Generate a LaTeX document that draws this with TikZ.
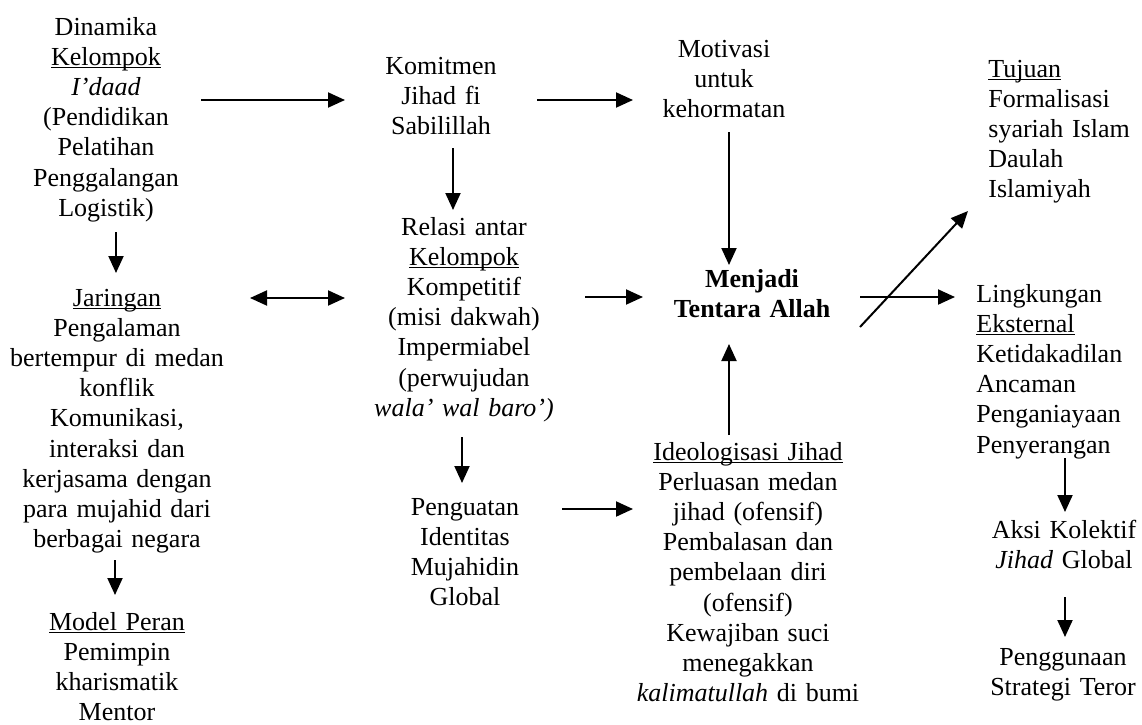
\documentclass[tikz,border=0pt]{standalone}
\usepackage{fontspec}
\setmainfont{Liberation Serif}
\usetikzlibrary{arrows.meta}
\newcommand{\myul}[1]{\leavevmode\setbox0\hbox{#1}\rlap{\rule[-1.6pt]{\wd0}{0.55pt}}\box0}
\tikzset{
  txt/.style={text width=130pt, align=center, anchor=base, inner sep=0pt, font=\fontsize{13pt}{15.1pt}\selectfont},
  ltxt/.style={text width=80pt, align=left, anchor=base west, inner sep=0pt, font=\fontsize{13pt}{15.1pt}\selectfont},
  arr/.style={-{Triangle[length=8.5pt,width=7.5pt]}, line width=1pt},
  darr/.style={{Triangle[length=8.5pt,width=7.5pt]}-{Triangle[length=8.5pt,width=7.5pt]}, line width=1pt}
}
\begin{document}
\begin{tikzpicture}[x=0.5pt,y=-0.5pt]
\fill[white] (0,0) rectangle (1142,724);
\useasboundingbox (0,0) rectangle (1142,724);

\node[txt] (dinamika) at (106,35) {Dinamika\\\myul{Kelompok}\\\textit{I’daad}\\(Pendidikan\\Pelatihan\\Penggalangan\\Logistik)};
\node[txt] (jaringan) at (117,306) {\myul{Jaringan}\\Pengalaman\\bertempur di medan\\konflik\\Komunikasi,\\interaksi dan\\kerjasama dengan\\para mujahid dari\\berbagai negara};
\node[txt] (model) at (117,630) {\myul{Model Peran}\\Pemimpin\\kharismatik\\Mentor};
\node[txt] (komitmen) at (441,74) {Komitmen\\Jihad fi\\Sabilillah};
\node[txt] (motivasi) at (724,57) {Motivasi\\untuk\\kehormatan};
\node[txt] (relasi) at (464,235) {Relasi antar\\\myul{Kelompok}\\Kompetitif\\(misi dakwah)\\Impermiabel\\(perwujudan\\\textit{wala’ wal baro’)}};
\node[txt] (menjadi) at (752,287) {\textbf{Menjadi}\\\textbf{Tentara Allah}};
\node[txt] (penguatan) at (465,515) {Penguatan\\Identitas\\Mujahidin\\Global};
\node[txt] (ideologisasi) at (748,460) {\myul{Ideologisasi Jihad}\\Perluasan medan\\jihad (ofensif)\\Pembalasan dan\\pembelaan diri\\(ofensif)\\Kewajiban suci\\menegakkan\\\textit{kalimatullah} di bumi};
\node[ltxt] (tujuan) at (988,77) {\myul{Tujuan}\\Formalisasi\\syariah Islam\\Daulah\\Islamiyah};
\node[ltxt] (lingkungan) at (976,302) {Lingkungan\\\myul{Eksternal}\\Ketidakadilan\\Ancaman\\Penganiayaan\\Penyerangan};
\node[txt] (aksi) at (1064,538) {Aksi Kolektif\\\textit{Jihad} Global};
\node[txt] (penggunaan) at (1063,665) {Penggunaan\\Strategi Teror};

\draw[arr] ([shift={(10,197)}]dinamika.base) -- ([shift={(-1,-33)}]jaringan.base);
\draw[arr] ([shift={(-2,254)}]jaringan.base) -- ([shift={(-2,-35)}]model.base);
\draw[arr] ([shift={(95,65)}]dinamika.base) -- ([shift={(-96,26)}]komitmen.base);
\draw[darr] ([shift={(133,-8)}]jaringan.base) -- ([shift={(-119,63)}]relasi.base);
\draw[arr] ([shift={(96,26)}]komitmen.base) -- ([shift={(-91,43)}]motivasi.base);
\draw[arr] ([shift={(12,74)}]komitmen.base) -- ([shift={(-11,-25)}]relasi.base);
\draw[arr] ([shift={(5,75)}]motivasi.base) -- ([shift={(-23,-22)}]menjadi.base);
\draw[arr] ([shift={(121,62)}]relasi.base) -- ([shift={(-109,10)}]menjadi.base);
\draw[arr] ([shift={(-2,202)}]relasi.base) -- ([shift={(-3,-32)}]penguatan.base);
\draw[arr] ([shift={(97,-6)}]penguatan.base) -- ([shift={(-115,49)}]ideologisasi.base);
\draw[arr] ([shift={(-19,-25)}]ideologisasi.base) -- ([shift={(-23,57)}]menjadi.base);
\draw[arr] ([shift={(108,40)}]menjadi.base) -- ([shift={(-20,134)}]tujuan.base west);
\draw[arr] ([shift={(108,10)}]menjadi.base) -- ([shift={(-21,-5)}]lingkungan.base west);
\draw[arr] ([shift={(89,156)}]lingkungan.base west) -- ([shift={(1,-26)}]aksi.base);
\draw[arr] ([shift={(1,59)}]aksi.base) -- ([shift={(2,-28)}]penggunaan.base);
\end{tikzpicture}
\end{document}
